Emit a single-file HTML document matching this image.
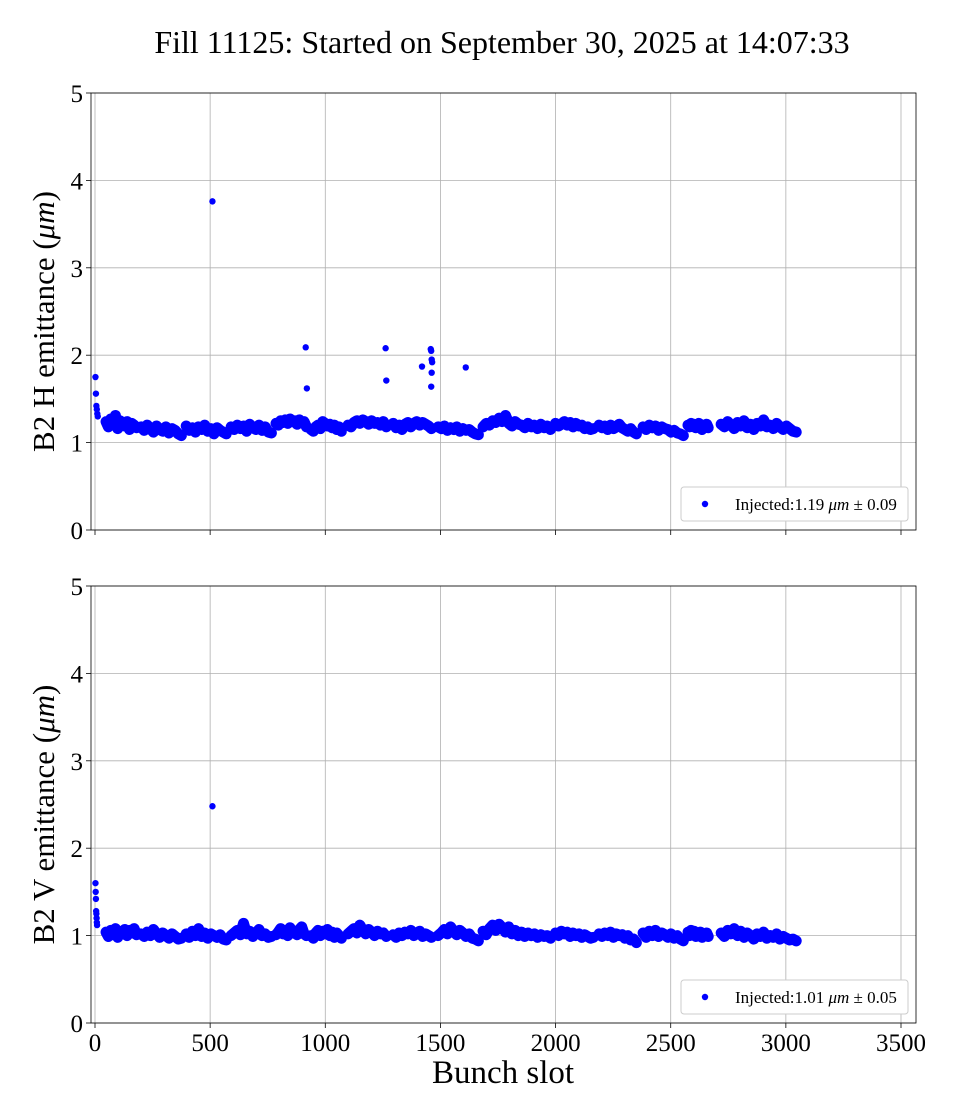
<!DOCTYPE html>
<html><head><meta charset="utf-8"><style>
body{margin:0;background:#fff;}
svg{display:block;font-family:"Liberation Serif",serif;}
</style></head><body>
<svg id="chart" width="960" height="1120"></svg>
<script>
const trainStarts=[48,200,396,591,786,938,1099,1295,1490,1685,2000,2189,2380,2575,2719];
const trainEnds=[180,375,570,766,918,1070,1265,1461,1665,1978,2164,2351,2555,2663,3045];
const hTrainValues=[
[1.24,1.18,1.27,1.2,1.31,1.16,1.25,1.21,1.19,1.24,1.15,1.22,1.2,1.17],
[1.18,1.14,1.2,1.16,1.12,1.19,1.15,1.13,1.18,1.11,1.16,1.14,1.1,1.08],
[1.19,1.14,1.17,1.12,1.18,1.15,1.2,1.13,1.16,1.1,1.17,1.14,1.12,1.1],
[1.18,1.15,1.2,1.16,1.19,1.13,1.21,1.17,1.15,1.2,1.14,1.18,1.12,1.11],
[1.22,1.2,1.25,1.23,1.26,1.22,1.27,1.24,1.25,1.21,1.26,1.23,1.24,1.18],
[1.15,1.13,1.18,1.2,1.16,1.24,1.22,1.19,1.21,1.17,1.2,1.15,1.18,1.13],
[1.2,1.18,1.23,1.25,1.22,1.26,1.24,1.21,1.25,1.22,1.23,1.2,1.24,1.18],
[1.22,1.17,1.2,1.15,1.21,1.23,1.18,1.22,1.24,1.2,1.23,1.21,1.19,1.16],
[1.18,1.16,1.19,1.14,1.17,1.15,1.18,1.13,1.16,1.14,1.15,1.12,1.1,1.09],
[1.18,1.22,1.2,1.25,1.23,1.28,1.24,1.31,1.22,1.19,1.24,1.21,1.2,1.17,1.22,1.18,1.2,1.16,1.21,1.17,1.19,1.15],
[1.22,1.19,1.21,1.24,1.2,1.23,1.18,1.22,1.19,1.2,1.16,1.18,1.15,1.16],
[1.2,1.17,1.19,1.15,1.2,1.16,1.18,1.21,1.17,1.15,1.13,1.16,1.12,1.1],
[1.18,1.15,1.2,1.17,1.19,1.14,1.18,1.16,1.15,1.12,1.14,1.11,1.1,1.08],
[1.2,1.18,1.22,1.19,1.21,1.17,1.2,1.22,1.18,1.15,1.2,1.19,1.21,1.17],
[1.21,1.18,1.24,1.2,1.16,1.23,1.19,1.25,1.17,1.21,1.15,1.22,1.19,1.26,1.18,1.2,1.16,1.22,1.18,1.15,1.19,1.16,1.13,1.12]];
const vTrainValues=[
[1.04,0.99,1.06,1.01,1.08,0.98,1.05,1.02,1.07,1.0,1.06,1.03,1.08,1.01],
[1.02,0.99,1.04,1.0,1.07,1.02,0.98,1.03,1.0,0.97,1.02,0.99,0.96,0.97],
[1.02,0.98,1.05,1.0,1.08,0.99,1.03,0.97,1.02,1.0,0.98,1.01,0.96,0.95],
[1.0,1.03,1.06,1.01,1.14,1.02,1.05,0.99,1.03,1.07,1.0,1.02,0.98,0.99],
[1.01,1.04,1.08,1.02,1.06,1.0,1.09,1.03,1.05,1.01,1.07,1.1,1.02,1.0],
[1.0,0.97,1.03,1.06,1.0,1.05,1.02,1.07,1.0,1.04,0.98,1.03,1.0,0.97],
[1.02,1.05,1.08,1.03,1.12,1.06,1.02,1.07,1.04,1.0,1.05,1.02,1.03,0.99],
[1.01,0.98,1.03,1.0,1.04,1.02,1.06,1.0,1.03,1.05,0.99,1.02,1.0,0.98],
[1.0,1.03,1.07,1.02,1.1,1.05,1.01,1.06,1.03,0.99,1.02,0.97,0.96,0.94],
[1.05,1.01,1.08,1.12,1.06,1.13,1.09,1.04,1.1,1.02,1.06,1.0,1.04,0.99,1.03,1.0,1.02,0.98,1.01,0.99,1.0,0.97],
[1.03,1.0,1.05,1.02,1.04,0.99,1.03,1.0,1.02,0.98,1.01,0.99,0.97,0.98],
[1.02,0.99,1.03,1.0,1.04,0.98,1.02,1.0,1.01,0.97,1.0,0.95,0.96,0.92],
[1.03,0.98,1.05,1.0,1.06,0.99,1.03,1.01,0.98,1.02,0.97,1.0,0.96,0.94],
[1.04,1.0,1.06,1.02,1.05,0.99,1.03,1.01,1.04,0.98,1.02,1.0,1.03,0.99],
[1.03,0.99,1.06,1.02,1.08,1.0,1.05,0.98,1.03,1.0,0.96,1.02,0.99,1.04,0.97,1.0,0.98,1.02,0.96,0.99,0.97,0.95,0.96,0.94]];
const hOutlierSlots=[2,4,6,8,10,12,510,915,920,1262,1265,1420,1458,1460,1462,1464,1462,1460,1610];
const hOutlierValues=[1.75,1.56,1.42,1.38,1.33,1.3,3.76,2.09,1.62,2.08,1.71,1.87,2.07,2.05,1.95,1.92,1.8,1.64,1.86];
const vOutlierSlots=[2,3,4,5,6,7,8,9,510];
const vOutlierValues=[1.6,1.5,1.42,1.28,1.25,1.2,1.15,1.12,2.48];
const xTicks=[0,500,1000,1500,2000,2500,3000,3500];
const yTicks=[0,1,2,3,4,5];
const legendTexts=[["1.19","0.09"],["1.01","0.05"]];

const NS="http://www.w3.org/2000/svg";
const svg=document.getElementById('chart');
function mk(tag,attrs,parent){const e=document.createElementNS(NS,tag);for(const k in attrs)e.setAttribute(k,attrs[k]);(parent||svg).appendChild(e);return e;}
const X0=91,X1=916;
function xs(v){return 95+v*(806/3500);}
const panels=[{top:93,bot:530,label:"B2 H emittance (",vals:hTrainValues,os:hOutlierSlots,ov:hOutlierValues,name:"h",xl:false,lg:legendTexts[0]},
{top:586,bot:1023,label:"B2 V emittance (",vals:vTrainValues,os:vOutlierSlots,ov:vOutlierValues,name:"v",xl:true,lg:legendTexts[1]}];

const title=mk('text',{x:502,y:53,'text-anchor':'middle','font-size':32});
title.textContent="Fill 11125: Started on September 30, 2025 at 14:07:33";



panels.forEach(p=>{
  const g=mk('g',{});
  
  
  const ys=v=>p.bot-v*(p.bot-p.top)/5;
  xTicks.forEach(t=>{
    const x=xs(t);
    if(x<X1){const l=mk('line',{x1:x,x2:x,y1:p.top,y2:p.bot,stroke:'#b0b0b0','stroke-width':0.8},g);
    
    }
    mk('line',{x1:x,x2:x,y1:p.bot,y2:p.bot+5,stroke:'#000','stroke-width':0.8},g);
    if(p.xl){const tx=mk('text',{x:x,y:p.bot+28,'text-anchor':'middle','font-size':25},g);tx.textContent=t;
    
    }
  });
  yTicks.forEach(t=>{
    const y=ys(t);
    const l=mk('line',{x1:X0,x2:X1,y1:y,y2:y,stroke:'#b0b0b0','stroke-width':0.8},g);
    
    
    mk('line',{x1:X0-5,x2:X0,y1:y,y2:y,stroke:'#000','stroke-width':0.8},g);
    const tx=mk('text',{x:X0-8,y:y+9,'text-anchor':'end','font-size':25},g);tx.textContent=t;
    
    
  });
  const pts=mk('g',{fill:'#0000ff'},g);
  
  
  p.vals.forEach((arr,i)=>{
    const s=trainStarts[i],e=trainEnds[i];
    const coords=arr.map((v,j)=>[xs(s+(e-s)*j/(arr.length-1)),ys(v)]);
    const band=mk('polyline',{points:coords.map(c=>c.join(',')).join(' '),fill:'none',stroke:'#0000ff','stroke-width':11,'stroke-linecap':'round','stroke-linejoin':'round'},pts);
    
    
    coords.forEach(c=>{
      const d=mk('circle',{cx:c[0],cy:c[1],r:4},pts);
      
      
    });
  });
  p.os.forEach((s,i)=>{
    const c=mk('circle',{cx:xs(s),cy:ys(p.ov[i]),r:3.2},pts);
    
    
  });
  const fr=mk('rect',{x:X0,y:p.top,width:X1-X0,height:p.bot-p.top,fill:'none',stroke:'#000','stroke-width':0.8},g);
  
  
  const yl=mk('text',{transform:`translate(54,${(p.top+p.bot)/2+10}) rotate(-90)`,'text-anchor':'middle','font-size':31},g);
  yl.innerHTML=p.label+'<tspan font-style="italic">μm</tspan>)';
  
  
  const lg=mk('g',{},g);
  
  
  mk('rect',{x:681,y:p.bot-43,width:227,height:34,rx:3,fill:'#fff',stroke:'#ccc','stroke-width':1},lg);
  mk('circle',{cx:705,cy:p.bot-26,r:3.2,fill:'#0000ff'},lg);
  const lt=mk('text',{x:735,y:p.bot-20,'font-size':17},lg);
  lt.innerHTML='Injected:'+p.lg[0]+' <tspan font-style="italic">μm</tspan> ± '+p.lg[1];
});
const xl=mk('text',{x:503,y:1083,'text-anchor':'middle','font-size':33});
xl.textContent="Bunch slot";


</script>
</body></html>
